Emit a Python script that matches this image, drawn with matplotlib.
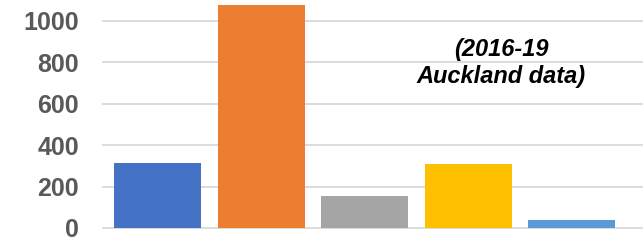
import matplotlib
matplotlib.use("Agg")
import matplotlib.pyplot as plt

categories = ["Cat 1", "Cat 2", "Cat 3", "Cat 4", "Cat 5"]
values = [313, 1075, 154, 308, 38]
colors = ["#4472C4", "#ED7D31", "#A5A5A5", "#FFC000", "#5B9BD5"]
yticks = [0, 200, 400, 600, 800, 1000]
annotation = "(2016-19\nAuckland data)"

W, H = 643, 241
fig = plt.figure(figsize=(W / 100, H / 100), dpi=100)
ax_left = 102 / W
ax = fig.add_axes([ax_left, 0, 1 - ax_left, 1])

x = list(range(len(categories)))
ax.bar(x, values, width=0.84, color=colors, zorder=3)

ax.set_xlim(-0.538, 4.689)
ax.set_ylim(-62.7, 1099)
ax.set_yticks(yticks)
ax.set_yticklabels([str(v) for v in yticks])
ax.set_xticks(x)
ax.set_xticklabels([])
ax.tick_params(axis="x", length=0)
ax.tick_params(axis="y", length=0, pad=16.5, labelsize=18, labelcolor="#595959")
for lab in ax.get_yticklabels():
    lab.set_fontfamily("Liberation Sans")
    lab.set_fontweight("bold")

ax.grid(axis="y", color="#D9D9D9", linewidth=1.3, zorder=0)
for s in ax.spines.values():
    s.set_visible(False)

fig.text(501 / W, 1 - 63 / H, annotation, ha="center", va="center",
         fontsize=17, fontweight="bold", fontstyle="italic",
         family="Liberation Sans", color="black", linespacing=1.2)

fig.savefig("out.png", dpi=100)
